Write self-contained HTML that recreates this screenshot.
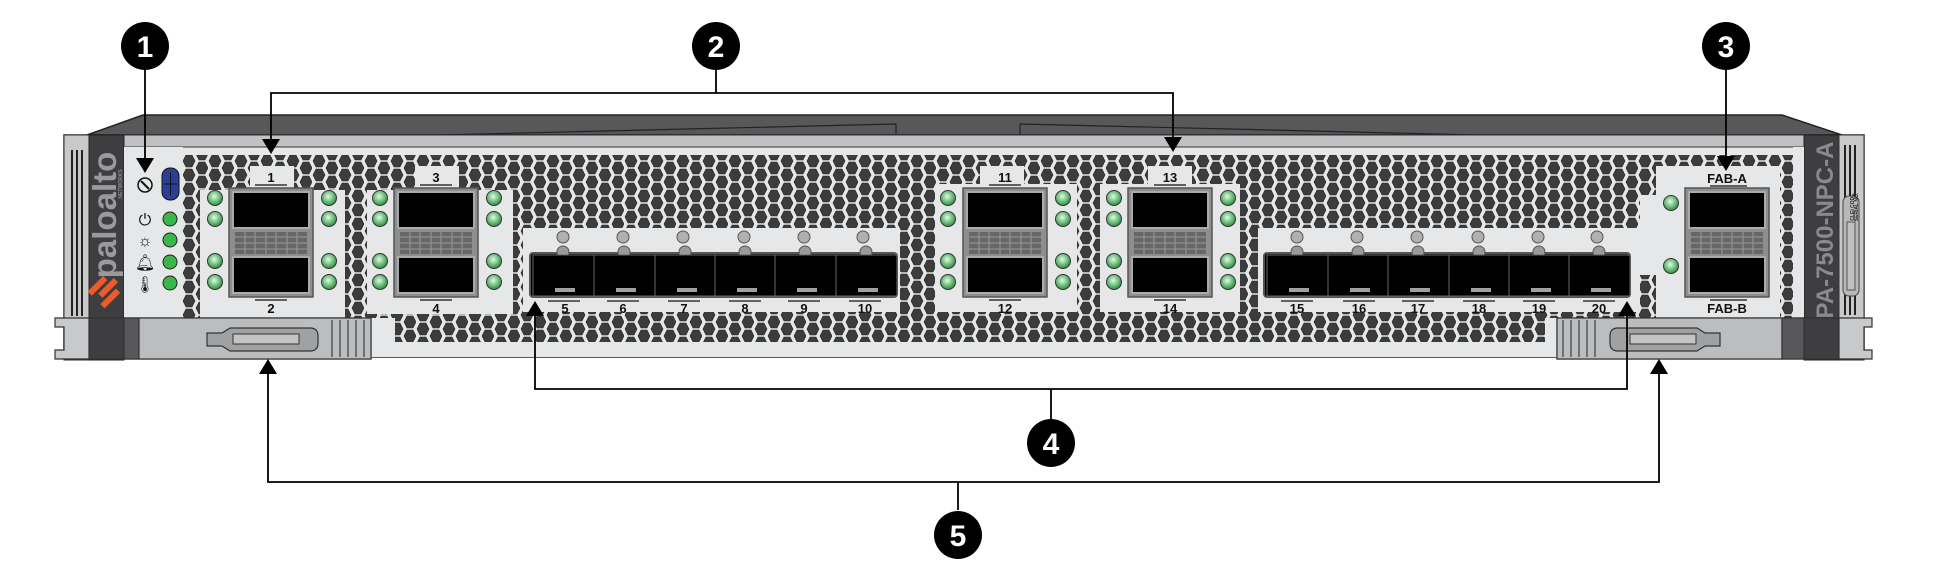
<!DOCTYPE html>
<html><head><meta charset="utf-8"><style>
html,body{margin:0;padding:0;background:#fff;}
svg{display:block;font-family:"Liberation Sans",sans-serif;}
</style></head><body>
<svg width="1938" height="570" viewBox="0 0 1938 570" xmlns="http://www.w3.org/2000/svg">
<defs>
<pattern id="hex" x="0" y="0" width="26" height="14" patternUnits="userSpaceOnUse">
<rect width="26" height="14" fill="#e6e7e8"/>
<g fill="#3c3c3c" stroke="#222" stroke-width="0.6">
<polygon points="4,1 10,1 13,7 10,13 4,13 1,7"/>
<polygon points="17,8 23,8 26,14 23,20 17,20 14,14"/>
<polygon points="17,-6 23,-6 26,0 23,6 17,6 14,0"/>
</g>
</pattern>
<radialGradient id="led" cx="45%" cy="40%" r="60%"><stop offset="0" stop-color="#e8f6ea"/><stop offset="0.5" stop-color="#7cc98a"/><stop offset="1" stop-color="#2f8a3f"/></radialGradient>
<g id="qsfp">
<rect x="0" y="0" width="84" height="109" fill="#8e8e8e" stroke="#555" stroke-width="1.5"/>
<rect x="4" y="4" width="76" height="36" fill="#000" stroke="#aaa" stroke-width="2"/>
<rect x="4" y="69" width="76" height="36" fill="#000" stroke="#aaa" stroke-width="2"/>
<rect x="6" y="44" width="72" height="22" fill="#666"/>
<g stroke="#999" stroke-width="1"><line x1="6" y1="49" x2="78" y2="49"/><line x1="6" y1="55" x2="78" y2="55"/><line x1="6" y1="61" x2="78" y2="61"/>
<line x1="16" y1="44" x2="16" y2="66"/><line x1="26" y1="44" x2="26" y2="66"/><line x1="37" y1="44" x2="37" y2="66"/><line x1="47" y1="44" x2="47" y2="66"/><line x1="58" y1="44" x2="58" y2="66"/><line x1="68" y1="44" x2="68" y2="66"/></g>
</g>
<g id="sfp">
<circle cx="30" cy="0" r="6" fill="#9a9a9a" stroke="#555"/>
<rect x="0" y="3" width="61" height="41" fill="#000" stroke="#666" stroke-width="1"/>
<rect x="22" y="36" width="20" height="4" fill="#a0a0a0"/>
</g>
<circle id="L" r="7.5" fill="url(#led)" stroke="#333" stroke-width="1"/>
<circle id="G" r="6" fill="#b0b0b0" stroke="#555" stroke-width="1"/>
</defs>

<polygon points="87,135 143,115 1782,115 1842,135" fill="#58585a" stroke="#222" stroke-width="1.5"/>
<polyline points="396,136 896,124 896,136" fill="none" stroke="#222" stroke-width="1.2"/>
<polyline points="1020,136 1020,124 1519,136" fill="none" stroke="#222" stroke-width="1.2"/>

<rect x="64" y="135" width="1800" height="222" fill="#e6e7e8" stroke="#222" stroke-width="1.5"/>
<rect x="124" y="135" width="1680" height="12" fill="#c0c1c3" stroke="#333" stroke-width="1"/>
<rect x="64" y="135" width="25" height="225" fill="#c8c9cb" stroke="#333"/>
<g stroke="#222" stroke-width="2"><line x1="72" y1="150" x2="72" y2="316"/><line x1="77" y1="150" x2="77" y2="316"/><line x1="82" y1="150" x2="82" y2="316"/></g>
<rect x="89" y="135" width="35" height="225" fill="#3e3e40" stroke="#222"/>
<text transform="translate(116,215) rotate(-90)" text-anchor="middle" font-size="33" font-weight="bold" fill="#9a9a9c">paloalto</text>
<text transform="translate(122,184) rotate(-90)" text-anchor="middle" font-size="5" font-weight="bold" fill="#888">NETWORKS</text>
<g fill="#f05a28" transform="translate(106,290) rotate(-45)"><rect x="-14" y="-12" width="22" height="6"/><rect x="-8" y="-3" width="22" height="6"/><rect x="-14" y="6" width="22" height="6"/></g>
<rect x="1804" y="135" width="35" height="225" fill="#3e3e40" stroke="#222"/>
<text transform="translate(1833,230) rotate(-90)" text-anchor="middle" font-size="24" font-weight="bold" fill="#8a8a8c">PA-7500-NPC-A</text>
<rect x="1839" y="135" width="25" height="225" fill="#c8c9cb" stroke="#333"/>
<g stroke="#222" stroke-width="2"><line x1="1845" y1="145" x2="1845" y2="315"/><line x1="1850" y1="145" x2="1850" y2="315"/><line x1="1855" y1="145" x2="1855" y2="315"/></g>
<rect x="1843" y="196" width="16" height="100" rx="6" fill="#b8b8ba" stroke="#444"/>
<rect x="1847" y="222" width="8" height="68" fill="#c0c0c0" stroke="#555"/>
<text transform="translate(1854,207) rotate(-90)" text-anchor="middle" font-size="5" font-weight="bold" fill="#222">CLEI CODE</text>
<text transform="translate(1858,207) rotate(-90)" text-anchor="middle" font-size="5" font-weight="bold" fill="#222">SERIAL NO.</text>

<rect x="183" y="155" width="1610" height="187" fill="url(#hex)"/>
<g fill="#e6e7e8">
<rect x="124" y="147" width="59" height="210"/>
<rect x="200" y="190" width="145" height="130"/>
<rect x="250" y="166" width="44" height="26"/>
<rect x="367" y="190" width="146" height="124"/>
<rect x="415" y="166" width="44" height="26"/>
<rect x="523" y="228" width="377" height="84"/>
<rect x="935" y="184" width="142" height="128"/>
<rect x="980" y="166" width="44" height="20"/>
<rect x="1100" y="184" width="140" height="128"/>
<rect x="1148" y="166" width="44" height="20"/>
<rect x="1258" y="228" width="382" height="84"/>
<rect x="1656" y="166" width="124" height="176"/>
<rect x="1640" y="195" width="20" height="80"/>
<rect x="183" y="342" width="1621" height="15"/>
<rect x="183" y="318" width="212" height="30"/>
<rect x="1545" y="318" width="259" height="30"/>
<rect x="1793" y="147" width="11" height="210"/>
</g>

<g stroke="#333" stroke-width="1.2">
<path d="M55,318 H371 V359 H55 V350 H64 V327 H55 Z" fill="#c8c9cb"/>
<rect x="89" y="318" width="35" height="41" fill="#3e3e40"/>
<rect x="124" y="318" width="15" height="41" fill="#58585a"/>
<rect x="139" y="318" width="232" height="41" fill="#bcbdbf"/>
<path d="M1557,318 H1872 V327 H1864 V350 H1872 V359 H1557 Z" fill="#c8c9cb"/>
<rect x="1557" y="318" width="225" height="41" fill="#bcbdbf"/>
<rect x="1782" y="318" width="22" height="41" fill="#58585a"/>
<rect x="1804" y="318" width="35" height="41" fill="#3e3e40"/>
</g>
<g stroke="#555" stroke-width="1.5">
<line x1="332" y1="320" x2="332" y2="357"/><line x1="340" y1="320" x2="340" y2="357"/><line x1="348" y1="320" x2="348" y2="357"/><line x1="356" y1="320" x2="356" y2="357"/><line x1="364" y1="320" x2="364" y2="357"/>
<line x1="1563" y1="320" x2="1563" y2="357"/><line x1="1571" y1="320" x2="1571" y2="357"/><line x1="1579" y1="320" x2="1579" y2="357"/><line x1="1587" y1="320" x2="1587" y2="357"/><line x1="1595" y1="320" x2="1595" y2="357"/>
</g>
<path d="M207,333 H222 L230,328 H310 Q318,328 318,336 V343 Q318,351 310,351 H230 L222,346 H207 Z" fill="#a0a1a3" stroke="#333" stroke-width="1.2"/>
<rect x="233" y="334" width="66" height="10" fill="#c4c4c6" stroke="#333"/>
<path d="M1720,333 H1705 L1697,328 H1618 Q1610,328 1610,336 V343 Q1610,351 1618,351 H1697 L1705,346 H1720 Z" fill="#a0a1a3" stroke="#333" stroke-width="1.2"/>
<rect x="1630" y="334" width="66" height="10" fill="#c4c4c6" stroke="#333"/>

<circle cx="145" cy="185" r="7" fill="none" stroke="#111" stroke-width="1.5"/>
<line x1="141" y1="181" x2="149" y2="189" stroke="#111" stroke-width="2"/>
<rect x="162" y="168" width="17" height="32" rx="8" fill="#2a3f95" stroke="#111"/>
<line x1="170.5" y1="172" x2="170.5" y2="196" stroke="#111"/><line x1="164" y1="184" x2="177" y2="184" stroke="#111"/>
<g font-size="16" fill="#111" text-anchor="middle"><text x="145" y="225">⏻</text><text x="145" y="246">☼</text><text x="145" y="268">🔔︎</text><text x="145" y="290">🌡︎</text></g>
<g fill="#3cb54a" stroke="#222" stroke-width="1"><circle cx="170" cy="219" r="7"/><circle cx="170" cy="240" r="7"/><circle cx="170" cy="262" r="7"/><circle cx="170" cy="283" r="7"/></g>

<use href="#qsfp" x="229" y="188"/>
<use href="#qsfp" x="394" y="188"/>
<use href="#qsfp" x="963" y="188"/>
<use href="#qsfp" x="1128" y="188"/>
<use href="#qsfp" x="1685" y="188"/>
<g>
<use href="#L" x="215" y="198"/><use href="#L" x="215" y="219"/><use href="#L" x="215" y="261"/><use href="#L" x="215" y="282"/>
<use href="#L" x="329" y="198"/><use href="#L" x="329" y="219"/><use href="#L" x="329" y="261"/><use href="#L" x="329" y="282"/>
<use href="#L" x="380" y="198"/><use href="#L" x="380" y="219"/><use href="#L" x="380" y="261"/><use href="#L" x="380" y="282"/>
<use href="#L" x="494" y="198"/><use href="#L" x="494" y="219"/><use href="#L" x="494" y="261"/><use href="#L" x="494" y="282"/>
<use href="#L" x="948" y="198"/><use href="#L" x="948" y="219"/><use href="#L" x="948" y="261"/><use href="#L" x="948" y="282"/>
<use href="#L" x="1063" y="198"/><use href="#L" x="1063" y="219"/><use href="#L" x="1063" y="261"/><use href="#L" x="1063" y="282"/>
<use href="#L" x="1114" y="198"/><use href="#L" x="1114" y="219"/><use href="#L" x="1114" y="261"/><use href="#L" x="1114" y="282"/>
<use href="#L" x="1228" y="198"/><use href="#L" x="1228" y="219"/><use href="#L" x="1228" y="261"/><use href="#L" x="1228" y="282"/>
<use href="#L" x="1671" y="203"/><use href="#L" x="1671" y="266"/>
</g>
<rect x="530" y="253" width="367" height="44" rx="3" fill="#000" stroke="#555" stroke-width="2"/>
<rect x="1264" y="253" width="366" height="44" rx="3" fill="#000" stroke="#555" stroke-width="2"/>
<g>
<use href="#sfp" x="533" y="252"/><use href="#sfp" x="594" y="252"/><use href="#sfp" x="655" y="252"/><use href="#sfp" x="715" y="252"/><use href="#sfp" x="775" y="252"/><use href="#sfp" x="836" y="252"/>
<use href="#sfp" x="1267" y="252"/><use href="#sfp" x="1328" y="252"/><use href="#sfp" x="1388" y="252"/><use href="#sfp" x="1449" y="252"/><use href="#sfp" x="1509" y="252"/><use href="#sfp" x="1569" y="252"/>
<use href="#G" x="563" y="237"/><use href="#G" x="623" y="237"/><use href="#G" x="683" y="237"/><use href="#G" x="744" y="237"/><use href="#G" x="804" y="237"/><use href="#G" x="863" y="237"/>
<use href="#G" x="1297" y="237"/><use href="#G" x="1357" y="237"/><use href="#G" x="1417" y="237"/><use href="#G" x="1478" y="237"/><use href="#G" x="1538" y="237"/><use href="#G" x="1597" y="237"/>
</g>

<g font-size="13" font-weight="bold" fill="#111" text-anchor="middle">
<text x="271" y="182">1</text><text x="271" y="313">2</text>
<text x="436" y="182">3</text><text x="436" y="313">4</text>
<text x="1005" y="182">11</text><text x="1005" y="313">12</text>
<text x="1170" y="182">13</text><text x="1170" y="313">14</text>
<text x="1727" y="183">FAB-A</text><text x="1727" y="313">FAB-B</text>
<text x="565" y="313">5</text><text x="623" y="313">6</text><text x="684" y="313">7</text><text x="745" y="313">8</text><text x="804" y="313">9</text><text x="865" y="313">10</text>
<text x="1297" y="313">15</text><text x="1359" y="313">16</text><text x="1418" y="313">17</text><text x="1479" y="313">18</text><text x="1539" y="313">19</text><text x="1599" y="313">20</text>
</g>
<g stroke="#111" stroke-width="1.2">
<line x1="255" y1="185" x2="287" y2="185"/><line x1="255" y1="300" x2="287" y2="300"/>
<line x1="420" y1="185" x2="452" y2="185"/><line x1="420" y1="300" x2="452" y2="300"/>
<line x1="989" y1="185" x2="1021" y2="185"/><line x1="989" y1="300" x2="1021" y2="300"/>
<line x1="1154" y1="185" x2="1186" y2="185"/><line x1="1154" y1="300" x2="1186" y2="300"/>
<line x1="1710" y1="186" x2="1747" y2="186"/><line x1="1710" y1="300" x2="1747" y2="300"/>
<line x1="548" y1="301" x2="580" y2="301"/><line x1="607" y1="301" x2="639" y2="301"/><line x1="668" y1="301" x2="700" y2="301"/><line x1="729" y1="301" x2="761" y2="301"/><line x1="788" y1="301" x2="820" y2="301"/><line x1="849" y1="301" x2="881" y2="301"/>
<line x1="1281" y1="301" x2="1313" y2="301"/><line x1="1343" y1="301" x2="1375" y2="301"/><line x1="1402" y1="301" x2="1434" y2="301"/><line x1="1463" y1="301" x2="1495" y2="301"/><line x1="1523" y1="301" x2="1555" y2="301"/><line x1="1583" y1="301" x2="1615" y2="301"/>
</g>

<g stroke="#000" stroke-width="1.8" fill="none">
<line x1="145" y1="60" x2="145" y2="162"/>
<polyline points="716,60 716,93"/>
<polyline points="271,143 271,93 1173,93 1173,140"/>
<line x1="1726" y1="60" x2="1726" y2="160"/>
<line x1="1051" y1="420" x2="1051" y2="389"/>
<polyline points="535,312 535,389 1627,389 1627,312"/>
<line x1="958" y1="510" x2="958" y2="482"/>
<polyline points="268,370 268,482 1659,482 1659,370"/>
</g>
<g fill="#000">
<polygon points="136,158 154,158 145,173"/>
<polygon points="262,139 280,139 271,154"/>
<polygon points="1164,137 1182,137 1173,152"/>
<polygon points="1717,156 1735,156 1726,171"/>
<polygon points="526,316 544,316 535,301"/>
<polygon points="1618,316 1636,316 1627,301"/>
<polygon points="259,374 277,374 268,359"/>
<polygon points="1650,374 1668,374 1659,359"/>
<circle cx="145" cy="46" r="24"/><circle cx="716" cy="46" r="24"/><circle cx="1726" cy="46" r="24"/>
<circle cx="1051" cy="443" r="24"/><circle cx="958" cy="535" r="24"/>
</g>
<g fill="#fff" font-size="30" font-weight="bold" text-anchor="middle">
<text x="145" y="57">1</text><text x="716" y="57">2</text><text x="1726" y="57">3</text>
<text x="1051" y="454">4</text><text x="958" y="546">5</text>
</g>
</svg>
</body></html>
